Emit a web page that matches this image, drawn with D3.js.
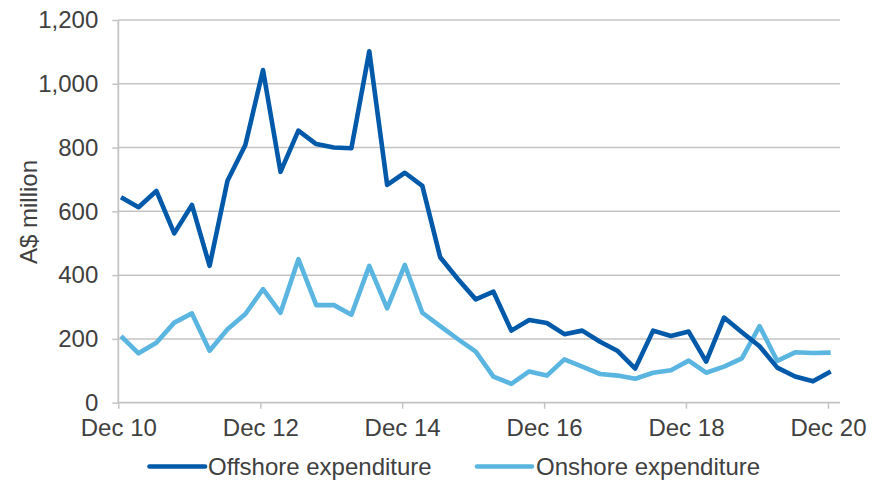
<!DOCTYPE html>
<html>
<head>
<meta charset="utf-8">
<script src="https://cdn.jsdelivr.net/npm/d3@7"></script>
<style>
  html, body { margin: 0; padding: 0; background: #fff; }
  svg { display: block; font-family: "Liberation Sans", Arial, sans-serif; }
</style>
</head>
<body>
<svg id="chart" width="885" height="481"></svg>
<script>
const categories = [
  "Dec 10","Mar 11","Jun 11","Sep 11","Dec 11","Mar 12","Jun 12","Sep 12",
  "Dec 12","Mar 13","Jun 13","Sep 13","Dec 13","Mar 14","Jun 14","Sep 14",
  "Dec 14","Mar 15","Jun 15","Sep 15","Dec 15","Mar 16","Jun 16","Sep 16",
  "Dec 16","Mar 17","Jun 17","Sep 17","Dec 17","Mar 18","Jun 18","Sep 18",
  "Dec 18","Mar 19","Jun 19","Sep 19","Dec 19","Mar 20","Jun 20","Sep 20",
  "Dec 20"
];
const offshore = [644, 613, 664, 531, 620, 429, 696, 808, 1043, 724, 853, 811, 800, 798, 1102, 683,
  721, 680, 456, 387, 324, 348, 226, 259, 250, 215, 226, 191, 162, 107, 226, 209,
  223, 129, 267, 221, 177, 110, 82, 67, 98];
const onshore = [209, 155, 188, 251, 280, 163, 230, 278, 356, 282, 450, 306, 306, 276, 429, 296,
  432, 282, 240, 199, 160, 82, 59, 98, 85, 136, 113, 90, 85, 75, 94, 102,
  132, 94, 113, 139, 240, 131, 158, 156, 157];
const xTickLabels = ["Dec 10","Dec 12","Dec 14","Dec 16","Dec 18","Dec 20"];
const yTicks = [0, 200, 400, 600, 800, 1000, 1200];
const seriesNames = ["Offshore expenditure", "Onshore expenditure"];
const yTitle = "A$ million";

const colors = ["#0059A9", "#5AB5E0"];
const textColor = "#404040";
const gridColor = "#C4C4C4";
const fontSize = 24;

const months = {Jan:0,Feb:1,Mar:2,Apr:3,May:4,Jun:5,Jul:6,Aug:7,Sep:8,Oct:9,Nov:10,Dec:11};
function parseLabel(s, day) {
  const [m, yy] = s.split(" ");
  return new Date(2000 + (+yy), months[m], day);
}
const pointDates = categories.map(c => parseLabel(c, 15));
const tickDates = xTickLabels.map(c => parseLabel(c, 1));

const svg = d3.select("#chart");
const plotL = 118.3, plotR = 840, plotT = 20, plotB = 402.7;

const x = d3.scaleTime()
  .domain([tickDates[0], new Date(2021, 1, 1)])
  .range([plotL, plotR]);
const y = d3.scaleLinear().domain([0, 1200]).range([plotB, plotT]);

// gridlines
svg.append("g").selectAll("line").data(yTicks.filter(v => v > 0)).join("line")
  .attr("x1", plotL).attr("x2", plotR)
  .attr("y1", d => y(d)).attr("y2", d => y(d))
  .attr("stroke", gridColor).attr("stroke-width", 1.5);

// y axis
const yAxis = d3.axisLeft(y).tickValues(yTicks).tickSize(6).tickPadding(14)
  .tickFormat(d3.format(","));
const gy = svg.append("g").attr("transform", `translate(${plotL},0)`).call(yAxis);
gy.select(".domain").attr("stroke", gridColor).attr("stroke-width", 1.8)
  .attr("d", `M0,${plotT}V${plotB}`);
gy.selectAll(".tick line").attr("stroke", gridColor).attr("stroke-width", 1.5);
gy.selectAll(".tick text").attr("fill", textColor).attr("font-size", fontSize)
  .attr("font-family", "Liberation Sans, Arial, sans-serif");

// x axis
const xAxis = d3.axisBottom(x).tickValues(tickDates).tickSize(6).tickPadding(10)
  .tickFormat((d, i) => xTickLabels[i]);
const gx = svg.append("g").attr("transform", `translate(0,${plotB})`).call(xAxis);
gx.select(".domain").attr("stroke", gridColor).attr("stroke-width", 1.8)
  .attr("d", `M${plotL},0H${plotR}`);
gx.selectAll(".tick line").attr("stroke", gridColor).attr("stroke-width", 1.5);
gx.selectAll(".tick text").attr("fill", textColor).attr("font-size", fontSize)
  .attr("font-family", "Liberation Sans, Arial, sans-serif");

// y title
svg.append("text")
  .attr("transform", `translate(37,212) rotate(-90)`)
  .attr("text-anchor", "middle")
  .attr("fill", textColor).attr("font-size", fontSize)
  .text(yTitle);

// lines
const line = d3.line().x((d, i) => x(pointDates[i])).y(d => y(d));
[onshore, offshore].forEach((data, k) => {
  const c = k === 0 ? colors[1] : colors[0];
  svg.append("path").datum(data)
    .attr("d", line)
    .attr("fill", "none")
    .attr("stroke", c)
    .attr("stroke-width", 4.6)
    .attr("stroke-linejoin", "round")
    .attr("stroke-linecap", "butt");
});

// legend
const legendY = 466.5;
const legendItems = [
  {name: seriesNames[0], color: colors[0], x1: 149.5, x2: 205, tx: 208},
  {name: seriesNames[1], color: colors[1], x1: 477, x2: 532, tx: 536}
];
const lg = svg.append("g");
legendItems.forEach(it => {
  lg.append("line").attr("x1", it.x1).attr("x2", it.x2)
    .attr("y1", legendY).attr("y2", legendY)
    .attr("stroke", it.color).attr("stroke-width", 4.6).attr("stroke-linecap", "round");
  lg.append("text").attr("x", it.tx).attr("y", legendY).attr("dy", "0.35em")
    .attr("fill", textColor).attr("font-size", fontSize).text(it.name);
});
</script>
</body>
</html>
